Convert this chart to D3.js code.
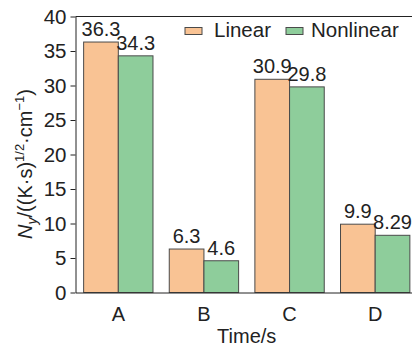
<!DOCTYPE html>
<html>
<head>
<meta charset="utf-8">
<script src="https://cdn.jsdelivr.net/npm/d3@7"></script>
<style>
  html, body { margin: 0; padding: 0; background: #fff; }
  svg { display: block; font-family: "Liberation Sans", Arial, Helvetica, sans-serif; }
</style>
</head>
<body>
<svg id="chart" width="412" height="347"></svg>
<script>
// Categories and series values
const categories = ["A", "B", "C", "D"];
const seriesNames = ["Linear", "Nonlinear"];
const linearValues = [36.3, 6.3, 30.9, 9.9];
const nonlinearValues = [34.3, 4.6, 29.8, 8.29];
const yTicks = [0, 5, 10, 15, 20, 25, 30, 35, 40];

const colors = { Linear: "#f9c394", Nonlinear: "#8ecd9b" };
const strokeColor = "#4a4a4a";
const textColor = "#222";

const svg = d3.select("#chart");
const margin = { left: 75.5, top: 16.5, right: -6, bottom: 54.5 };
const W = 412, H = 347;
const plotRight = W - margin.right;
const plotBottom = H - margin.bottom;

const x = d3.scaleBand().domain(categories).range([margin.left, plotRight]).padding(0);
const groupWidth = x.bandwidth() * 0.81;
const xInner = d3.scaleBand().domain(seriesNames).range([0, groupWidth]).padding(0);
const y = d3.scaleLinear().domain([0, 40]).range([plotBottom, margin.top]);

const rows = categories.map((c, i) => ({
  category: c,
  values: [
    { series: "Linear", value: linearValues[i] },
    { series: "Nonlinear", value: nonlinearValues[i] }
  ]
}));

// Bars
const groups = svg.append("g").selectAll("g")
  .data(rows).join("g")
  .attr("transform", d => `translate(${x(d.category) + (x.bandwidth() - groupWidth) / 2},0)`);

groups.selectAll("rect")
  .data(d => d.values).join("rect")
  .attr("x", d => xInner(d.series))
  .attr("y", d => y(d.value))
  .attr("width", xInner.bandwidth())
  .attr("height", d => y(0) - y(d.value))
  .attr("fill", d => colors[d.series])
  .attr("stroke", strokeColor)
  .attr("stroke-width", 1);

// Value labels
groups.selectAll("text")
  .data(d => d.values).join("text")
  .attr("x", d => xInner(d.series) + xInner.bandwidth() / 2)
  .attr("y", d => y(d.value) - 6)
  .attr("text-anchor", "middle")
  .attr("font-size", 20)
  .attr("fill", textColor)
  .text(d => d.value);

// Y axis
const yAxis = svg.append("g")
  .attr("transform", `translate(${margin.left},0)`)
  .call(d3.axisLeft(y).tickValues(yTicks).tickSize(5).tickPadding(4).tickSizeOuter(0));
yAxis.select(".domain").attr("stroke", "#222");
yAxis.selectAll(".tick line").attr("stroke", "#222");
yAxis.selectAll(".tick text")
  .attr("font-size", 20.5)
  .attr("font-family", "Liberation Sans, Arial, sans-serif")
  .attr("fill", textColor);

// X axis
const xAxis = svg.append("g")
  .attr("transform", `translate(0,${plotBottom})`)
  .call(d3.axisBottom(x).tickSize(0).tickPadding(14).tickSizeOuter(0));
xAxis.select(".domain").attr("stroke", "#222");
xAxis.selectAll(".tick text")
  .attr("font-size", 20)
  .attr("font-family", "Liberation Sans, Arial, sans-serif")
  .attr("fill", textColor);

// Top frame line
svg.append("line")
  .attr("x1", margin.left).attr("x2", plotRight)
  .attr("y1", margin.top).attr("y2", margin.top)
  .attr("stroke", "#222");

// X axis title
svg.append("text")
  .attr("x", (margin.left + plotRight) / 2)
  .attr("y", 343)
  .attr("text-anchor", "middle")
  .attr("font-size", 20)
  .attr("fill", textColor)
  .text("Time/s");

// Y axis title
const yTitle = svg.append("text")
  .attr("transform", "translate(32,164) rotate(-90)")
  .attr("text-anchor", "middle")
  .attr("font-size", 20)
  .attr("fill", textColor);
yTitle.append("tspan").attr("font-style", "italic").text("N");
yTitle.append("tspan").attr("font-style", "italic").attr("font-size", 14).attr("dy", 5).text("y");
yTitle.append("tspan").attr("dy", -5).text("/((K\u00b7s)");
yTitle.append("tspan").attr("font-size", 13).attr("dy", -8).text("1/2");
yTitle.append("tspan").attr("dy", 8).text("\u00b7cm");
yTitle.append("tspan").attr("font-size", 13).attr("dy", -8).text("\u22121");
yTitle.append("tspan").attr("dy", 8).text(")");

// Legend
const legend = svg.append("g");
const legendItems = [
  { name: "Linear", sx: 185, tx: 214 },
  { name: "Nonlinear", sx: 286, tx: 311 }
];
legend.selectAll("rect")
  .data(legendItems).join("rect")
  .attr("x", d => d.sx).attr("y", 27.5)
  .attr("width", 17).attr("height", 7)
  .attr("fill", d => colors[d.name])
  .attr("stroke", strokeColor).attr("stroke-width", 1);
legend.selectAll("text")
  .data(legendItems).join("text")
  .attr("x", d => d.tx).attr("y", 37)
  .attr("font-size", 20.5)
  .attr("fill", textColor)
  .text(d => d.name);
</script>
</body>
</html>
